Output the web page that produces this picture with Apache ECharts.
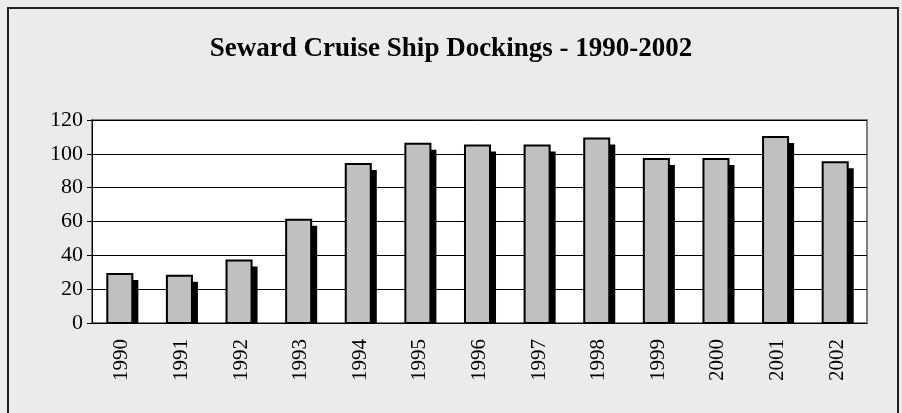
<!DOCTYPE html>
<html>
<head>
<meta charset="utf-8">
<script src="https://cdn.jsdelivr.net/npm/echarts@6/dist/echarts.min.js"></script>
<style>
  html, body { margin: 0; padding: 0; background: #fff; }
  #chart { width: 902px; height: 413px; }
</style>
</head>
<body>
<div id="chart"></div>
<script>
const years = ['1990', '1991', '1992', '1993', '1994', '1995', '1996',
  '1997', '1998', '1999', '2000', '2001', '2002']
const dockings = [29, 28, 37, 61, 94, 106, 105, 105, 109, 97, 97, 110, 95]
const yTicks = [0, 20, 40, 60, 80, 100, 120]

const serif = '"Liberation Serif", "DejaVu Serif", serif'
const chart = echarts.init(document.getElementById('chart'))

// bar with an offset black drop shadow, shadow stops at the baseline
function renderBar(params, api) {
  const top = api.coord([api.value(0), api.value(1)])
  const base = api.coord([api.value(0), 0])
  const band = api.size([1, 0])[0]
  const w = band * 0.42
  const x = top[0] - w / 2 - 2
  const off = 6
  return {
    type: 'group',
    children: [
      {
        type: 'rect',
        shape: { x: x + off, y: top[1] + off, width: w, height: base[1] - top[1] - off },
        style: { fill: '#000' }
      },
      {
        type: 'rect',
        shape: { x: x, y: top[1], width: w, height: base[1] - top[1] },
        style: { fill: '#c0c0c0', stroke: '#000', lineWidth: 2 }
      }
    ]
  }
}

chart.setOption({
  animation: false,
  backgroundColor: '#ebebeb',
  graphic: [{
    type: 'rect',
    shape: { x: 8, y: 8, width: 890, height: 420 },
    style: { fill: 'none', stroke: '#222', lineWidth: 2 },
    silent: true
  }],
  title: {
    text: 'Seward Cruise Ship Dockings - 1990-2002',
    left: 'center',
    top: 31,
    textStyle: { fontFamily: serif, fontWeight: 'bold', fontSize: 27, color: '#000' }
  },
  grid: {
    left: 92, top: 120, right: 35, bottom: 90,
    show: true, backgroundColor: '#fff', borderColor: '#808080', borderWidth: 2
  },
  xAxis: {
    type: 'category',
    data: years,
    boundaryGap: true,
    axisLine: { lineStyle: { color: '#000', width: 1 } },
    axisTick: { length: 6, lineStyle: { color: '#000' }, alignWithLabel: false },
    axisLabel: { rotate: 90, margin: 16, fontFamily: serif, fontSize: 21, color: '#000' }
  },
  yAxis: {
    type: 'value',
    min: 0, max: 120, interval: 20,
    axisLine: { show: true, lineStyle: { color: '#000', width: 1 } },
    axisTick: { show: true, length: 5, lineStyle: { color: '#000' } },
    axisLabel: {
      margin: 9, fontFamily: serif, fontSize: 22, color: '#000',
      formatter: v => (yTicks.includes(v) ? String(v) : '')
    },
    splitLine: { lineStyle: { color: '#000', width: 1 } }
  },
  series: [{
    type: 'custom',
    renderItem: renderBar,
    encode: { x: 0, y: 1 },
    data: dockings.map((v, i) => [i, v])
  }]
})
</script>
</body>
</html>
